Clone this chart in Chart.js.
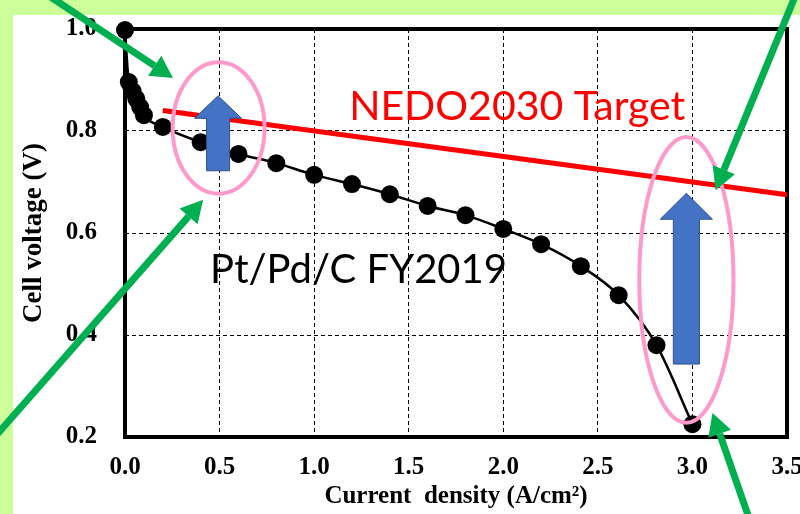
<!DOCTYPE html>
<html lang="en">
<head>
  <meta charset="UTF-8">
  <title>Cell voltage vs current density</title>
  <script src="https://cdn.jsdelivr.net/npm/chart.js"></script>
  <style>
    body { margin: 0; background: #ccff99; }
    canvas { display: block; }
  </style>
</head>
<body>
<canvas id="ivChart" width="800" height="514"></canvas>
<script>
  // I-V curve, Pt/Pd/C FY2019 (A/cm2, V)
  const currentDensity = [0.0, 0.02, 0.04, 0.06, 0.08, 0.10, 0.20, 0.40, 0.60, 0.80, 1.00, 1.20, 1.40, 1.60, 1.80, 2.00, 2.20, 2.41, 2.61, 2.81, 3.00];
  const cellVoltage = [0.998, 0.896, 0.878, 0.863, 0.847, 0.831, 0.808, 0.778, 0.755, 0.737, 0.714, 0.696, 0.676, 0.653, 0.635, 0.608, 0.578, 0.535, 0.478, 0.380, 0.225];

  // NEDO2030 target line
  const targetCurrent = [0.2, 3.5];
  const targetVoltage = [0.84, 0.675];

  const xTicks = [0.0, 0.5, 1.0, 1.5, 2.0, 2.5, 3.0, 3.5];
  const yTicks = [0.2, 0.4, 0.6, 0.8, 1.0];

  const tickFont = { family: 'Liberation Serif', size: 25, weight: 'bold' };
  const xTitleFont = { family: 'Liberation Serif', size: 25, weight: 'bold' };
  const yTitleFont = { family: 'Liberation Serif', size: 27, weight: 'bold' };

  // slide background + plot frame
  const frame = {
    id: 'frame',
    beforeDraw(chart) {
      const c = chart.ctx;
      c.save();
      c.fillStyle = '#ccff99';
      c.fillRect(0, 0, chart.width, chart.height);
      c.fillStyle = '#fff';
      c.fillRect(13, 15, chart.width - 13, chart.height - 15);
      c.restore();
    },
    beforeDatasetsDraw(chart) {
      const { ctx, chartArea: a } = chart;
      ctx.save();
      ctx.strokeStyle = '#000';
      ctx.lineWidth = 4;
      ctx.strokeRect(a.left, a.top, a.right - a.left, a.bottom - a.top);
      ctx.restore();
    }
  };

  // ellipses, arrows and labels placed in data units
  const notes = {
    id: 'notes',
    afterDatasetsDraw(chart) {
      const { ctx, scales: { x, y } } = chart;
      const px = v => x.getPixelForValue(v);
      const py = v => y.getPixelForValue(v);
      ctx.save();

      ctx.strokeStyle = '#ff99cc';
      ctx.lineWidth = 4;
      [[0.495, 0.806, 0.243, 0.129], [2.968, 0.508, 0.249, 0.280]].forEach(([cx, cy, rx, ry]) => {
        ctx.beginPath();
        ctx.ellipse(px(cx), py(cy), px(cx + rx) - px(cx), py(cy - ry) - py(cy), 0, 0, Math.PI * 2);
        ctx.stroke();
      });

      // blue block arrows: centre x, tip, neck, foot, head half width, shaft half width
      [[0.492, 0.869, 0.825, 0.722, 0.124, 0.061], [2.968, 0.678, 0.627, 0.343, 0.138, 0.069]].forEach(([cx, tip, neck, foot, head, shaft]) => {
        ctx.beginPath();
        ctx.moveTo(px(cx), py(tip));
        ctx.lineTo(px(cx + head), py(neck));
        ctx.lineTo(px(cx + shaft), py(neck));
        ctx.lineTo(px(cx + shaft), py(foot));
        ctx.lineTo(px(cx - shaft), py(foot));
        ctx.lineTo(px(cx - shaft), py(neck));
        ctx.lineTo(px(cx - head), py(neck));
        ctx.closePath();
        ctx.fillStyle = '#4472c4';
        ctx.fill();
        ctx.strokeStyle = '#2f528f';
        ctx.lineWidth = 1;
        ctx.stroke();
      });

      // green pointers
      const pointer = (x0, y0, x1, y1) => {
        const ax = px(x0), ay = py(y0), bx = px(x1), by = py(y1);
        const ang = Math.atan2(by - ay, bx - ax);
        const len = 22, half = 12;
        const nx = bx - len * Math.cos(ang), ny = by - len * Math.sin(ang);
        ctx.strokeStyle = '#00b050';
        ctx.lineWidth = 7;
        ctx.beginPath();
        ctx.moveTo(ax, ay);
        ctx.lineTo(nx, ny);
        ctx.stroke();
        ctx.fillStyle = '#00b050';
        ctx.beginPath();
        ctx.moveTo(bx, by);
        ctx.lineTo(nx + half * Math.sin(ang), ny - half * Math.cos(ang));
        ctx.lineTo(nx - half * Math.sin(ang), ny + half * Math.cos(ang));
        ctx.closePath();
        ctx.fill();
      };
      pointer(-0.529, 1.096, 0.254, 0.904);
      pointer(-0.767, 0.167, 0.413, 0.665);
      pointer(3.556, 1.076, 3.122, 0.684);
      pointer(3.317, 0.022, 3.106, 0.247);

      ctx.textAlign = 'left';
      ctx.textBaseline = 'alphabetic';
      ctx.font = '41px Lato';
      ctx.fillStyle = '#ff0000';
      ctx.fillText('NEDO2030 Target', px(1.185), py(0.822));
      ctx.font = '40px Lato';
      ctx.fillStyle = '#000';
      ctx.fillText('Pt/Pd/C FY2019', px(0.45), py(0.502));
      ctx.restore();
    }
  };

  const ctx = document.getElementById('ivChart').getContext('2d');
  const ivChart = new Chart(ctx, {
    type: 'line',
    data: {
      datasets: [{
        label: 'Pt/Pd/C FY2019',
        data: currentDensity.map((v, i) => ({ x: v, y: cellVoltage[i] })),
        borderColor: '#000',
        backgroundColor: '#000',
        borderWidth: 2.5,
        pointRadius: 9,
        pointBorderWidth: 0,
        cubicInterpolationMode: 'monotone',
        clip: false
      }, {
        label: 'NEDO2030 Target',
        data: targetCurrent.map((v, i) => ({ x: v, y: targetVoltage[i] })),
        borderColor: '#ff0000',
        borderWidth: 5,
        pointRadius: 0,
        clip: false
      }]
    },
    options: {
      responsive: false,
      animation: false,
      events: [],
      layout: { padding: { top: 29, right: 13, left: 0, bottom: 0 } },
      plugins: { legend: { display: false }, tooltip: { enabled: false } },
      scales: {
        x: {
          type: 'linear',
          min: 0,
          max: 3.5,
          afterBuildTicks: s => { s.ticks = xTicks.map(v => ({ value: v })); },
          afterFit: s => { s.height = 77; s.paddingLeft = 0; s.paddingRight = 0; },
          ticks: { color: '#000', font: tickFont, padding: 16, maxRotation: 0, callback: v => v.toFixed(1) },
          grid: { color: '#000', lineWidth: 1, drawTicks: false },
          border: { display: false, dash: [4, 3] },
          title: { display: true, text: 'Current  density (A/cm\u00b2)', color: '#000', font: xTitleFont, padding: { top: 0, bottom: 2 } }
        },
        y: {
          min: 0.2,
          max: 1.0,
          afterBuildTicks: s => { s.ticks = yTicks.map(v => ({ value: v })); },
          afterFit: s => { s.width = 125; s.paddingTop = 0; s.paddingBottom = 0; },
          ticks: { color: '#000', font: tickFont, padding: 28, callback: v => v.toFixed(1) },
          grid: { color: '#000', lineWidth: 1, drawTicks: false },
          border: { display: false, dash: [4, 3] },
          title: { display: true, text: 'Cell voltage (V)', color: '#000', font: yTitleFont, padding: { top: 18, bottom: 0 } }
        }
      }
    },
    plugins: [frame, notes]
  });
</script>
</body>
</html>
